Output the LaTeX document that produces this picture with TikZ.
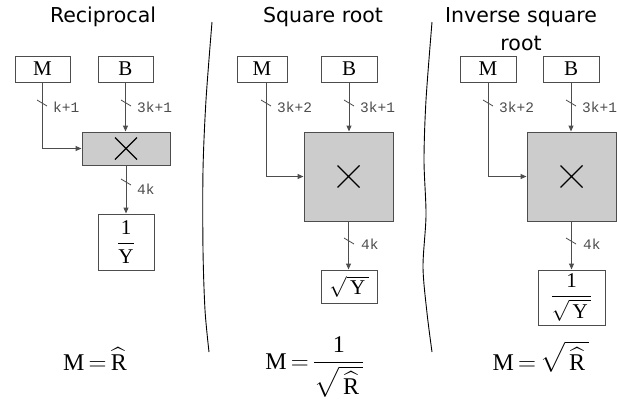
\documentclass[tikz,border=0pt]{standalone}
\usepackage{amsmath}
\usepackage{fontspec}
\setmainfont{Liberation Serif}
\setmonofont{Liberation Mono}
\newfontfamily\titlefont{DejaVu Sans}
\usetikzlibrary{arrows.meta}
\definecolor{wiregray}{HTML}{4D4D4D}
\definecolor{multgray}{HTML}{CCCCCC}
\thickmuskip=3mu

\begin{document}
\begin{tikzpicture}[x=1pt,y=-1pt,
    wire/.style={line width=1pt, wiregray, -{Triangle[length=6pt,width=5pt]}},
    regbox/.style={draw=wiregray, line width=1pt, minimum width=55pt, minimum height=26pt, inner sep=0pt, font=\fontsize{21}{24}\selectfont},
    multbox/.style={draw=wiregray, fill=multgray, line width=1pt, inner sep=0pt},
    outbox/.style={draw=wiregray, line width=1pt, inner sep=0pt, font=\fontsize{21}{24}\selectfont},
    buslabel/.style={anchor=west, inner sep=0pt, wiregray, font=\ttfamily\fontsize{14.5}{16}\selectfont},
    busmark/.style={line width=0.8pt, wiregray},
    titletext/.style={font=\titlefont\fontsize{20.5}{28}\selectfont, inner sep=0pt},
    formula/.style={anchor=base, inner sep=0pt, font=\fontsize{24}{28}\selectfont},
    divider/.style={line width=0.9pt, black}]
    \useasboundingbox (0,0) rectangle (617,402);

    % Titles
    \node[titletext, anchor=base] (title1) at (103,22) {Reciprocal};
    \node[titletext, anchor=base] (title2) at (323,22) {Square root};
    \node[titletext, anchor=north, align=center] (title3) at (521,7) {Inverse square\\root};

    % Dividers
    \draw[divider] plot[smooth] coordinates {(212,22) (206,100) (203,170) (203,250) (205,310) (209,352)};
    \draw[divider] plot[smooth] coordinates {(432,22) (426,100) (424,160) (426,215) (423,267) (427,313) (432,352)};

    % Reciprocal
    \node[regbox] (m1) at (42.5,69) {M};
    \node[regbox] (b1) at (125.5,69) {B};
    \node[multbox, minimum width=88pt, minimum height=33pt] (x1) at (126,148.5) {};
    \node[outbox, minimum width=56pt, minimum height=56pt] (y1) at (126,242) {$\dfrac{\text{1}}{\text{Y}}$};
    \draw[line width=1.2pt] (x1.center) +(-11,-11) -- +(11,11) (x1.center) +(-11,11) -- +(11,-11);
    \draw[wire] (m1.south) |- (x1.west);
    \draw[wire] (b1.south) -- (b1.south |- x1.north);
    \draw[wire] (x1.south) -- (y1.north);
    \draw[busmark] (42,103) +(-5,-3) -- +(5,3);
    \draw[busmark] (126,103) +(-5,-3) -- +(5,3);
    \draw[busmark] (126,182) +(-5,-3) -- +(5,3);
    \node[buslabel] (lm1) at (53,107) {k+1};
    \node[buslabel] (lb1) at (137,107) {3k+1};
    \node[buslabel] (ly1) at (137,189) {4k};
    \node[formula] (f1) at (95,370) {$\text{M} = \widehat{\text{R}}$};

    % Square root
    \node[regbox, minimum width=50pt] (m2) at (262,69) {M};
    \node[regbox, minimum width=56pt] (b2) at (349,69) {B};
    \node[multbox, minimum width=89pt, minimum height=89pt] (x2) at (348.5,176.5) {};
    \node[outbox, minimum width=56pt, minimum height=33pt] (y2) at (349,286.5) {$\sqrt{\,\text{Y}\,}$};
    \draw[line width=1.2pt] (x2.center) +(-11,-11) -- +(11,11) (x2.center) +(-11,11) -- +(11,-11);
    \draw[wire] ([xshift=4pt]m2.south) |- (x2.west);
    \draw[wire] (b2.south) -- (b2.south |- x2.north);
    \draw[wire] (x2.south) -- (x2.south |- y2.north);
    \draw[busmark] (266,103) +(-5,-3) -- +(5,3);
    \draw[busmark] (349,103) +(-5,-3) -- +(5,3);
    \draw[busmark] (349,241) +(-5,-3) -- +(5,3);
    \node[buslabel] (lm2) at (277,107) {3k+2};
    \node[buslabel] (lb2) at (360,107) {3k+1};
    \node[buslabel] (ly2) at (361,244) {4k};
    \node[formula] (f2) at (315,369) {$\text{M} = \dfrac{\text{1}}{\sqrt{\,\widehat{\text{R}}\,}}$};

    % Inverse square root
    \node[regbox, minimum width=56pt] (m3) at (488,69) {M};
    \node[regbox, minimum width=56pt] (b3) at (571,69) {B};
    \node[multbox, minimum width=89pt, minimum height=89pt] (x3) at (571.5,176.5) {};
    \node[outbox, minimum width=67pt, minimum height=55pt] (y3) at (571.5,297.5) {$\dfrac{\text{1}}{\sqrt{\,\text{Y}\,}}$};
    \draw[line width=1.2pt] (x3.center) +(-11,-11) -- +(11,11) (x3.center) +(-11,11) -- +(11,-11);
    \draw[wire] (m3.south) |- (x3.west);
    \draw[wire] (b3.south) -- (b3.south |- x3.north);
    \draw[wire] (x3.south) -- (y3.north);
    \draw[busmark] (488,103) +(-5,-3) -- +(5,3);
    \draw[busmark] (571,103) +(-5,-3) -- +(5,3);
    \draw[busmark] (571,241) +(-5,-3) -- +(5,3);
    \node[buslabel] (lm3) at (499,107) {3k+2};
    \node[buslabel] (lb3) at (582,107) {3k+1};
    \node[buslabel] (ly3) at (583,244) {4k};
    \node[formula] (f3) at (541,370) {$\text{M} = \sqrt{\,\widehat{\text{R}}\,}$};
\end{tikzpicture}
\end{document}
